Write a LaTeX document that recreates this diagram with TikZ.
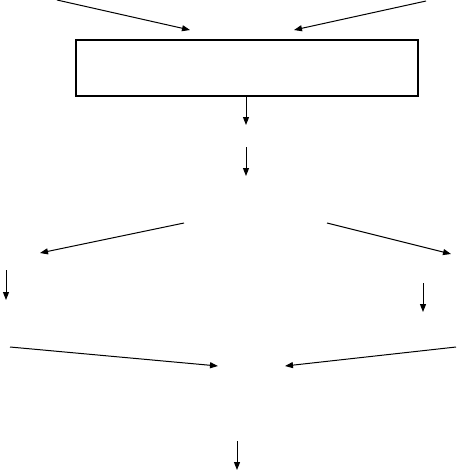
\documentclass[tikz,border=0pt]{standalone}
\usetikzlibrary{arrows.meta}
\tikzset{
  conn/.style={line width=1pt, -{Triangle[length=8pt,width=6pt]}},
  bigbox/.style={draw, line width=1.2pt, minimum width=342pt, minimum height=56pt, inner sep=0pt}
}
\begin{document}
\begin{tikzpicture}[x=1pt,y=-1pt]
\useasboundingbox (0,0) rectangle (458,472);
\node[bigbox] (box) at (247,68) {};
\coordinate (a1s) at (57,0);   \coordinate (a1e) at (190,30);
\coordinate (a2s) at (426,1);  \coordinate (a2e) at (294,30);
\coordinate (a3e) at (246,125);
\coordinate (a4s) at (246,147); \coordinate (a4e) at (246,176);
\coordinate (a5s) at (184,223); \coordinate (a5e) at (40,253);
\coordinate (a6s) at (327,223); \coordinate (a6e) at (451,254);
\coordinate (a7s) at (6,270);   \coordinate (a7e) at (6,300);
\coordinate (a8s) at (423,283); \coordinate (a8e) at (423,312);
\coordinate (a9s) at (10,347);  \coordinate (a9e) at (218,366);
\coordinate (a10s) at (456,347); \coordinate (a10e) at (285,366);
\coordinate (a11s) at (237,441); \coordinate (a11e) at (237,470);
\draw[conn] (a1s) -- (a1e);
\draw[conn] (a2s) -- (a2e);
\draw[conn] (box.south -| a3e) -- (a3e);
\draw[conn] (a4s) -- (a4e);
\draw[conn] (a5s) -- (a5e);
\draw[conn] (a6s) -- (a6e);
\draw[conn] (a7s) -- (a7e);
\draw[conn] (a8s) -- (a8e);
\draw[conn] (a9s) -- (a9e);
\draw[conn] (a10s) -- (a10e);
\draw[conn] (a11s) -- (a11e);
\end{tikzpicture}
\end{document}
